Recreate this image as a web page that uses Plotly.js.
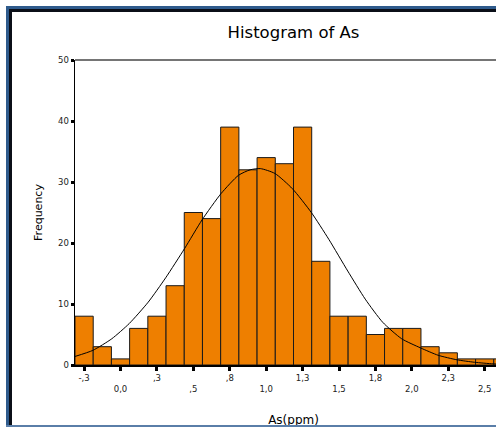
<!DOCTYPE html>
<html>
<head>
<meta charset="utf-8">
<script src="https://cdn.plot.ly/plotly-3.0.1.min.js"></script>
<style>
  html, body { margin:0; padding:0; background:#ffffff; width:496px; height:427px; overflow:hidden; }
  #frameOuter { position:absolute; left:6px; top:6px; width:600px; height:416px;
    border-left:3px solid #2f5b8c; border-top:3px solid #2f5b8c; border-bottom:3px solid #5a7ea8; }
  #frameInner { position:absolute; left:0; top:0; width:600px; height:416px;
    border-left:3px solid #0b0f18; border-top:3px solid #0b0f18; }
  #chart { position:absolute; left:0; top:0; width:540px; height:427px; }
  #frameBottom { position:absolute; left:6px; top:425px; width:600px; height:3px; background:#5a7ea8; }
</style>
</head>
<body>
<div id="frameOuter"><div id="frameInner"></div></div>
<div id="chart"></div>
<div id="frameBottom"></div>
<script>
// Histogram bins (centres, width 0.125) and frequencies
const binCenters = [-0.25, -0.125, 0, 0.125, 0.25, 0.375, 0.5, 0.625, 0.75, 0.875, 1.0, 1.125,
                    1.25, 1.375, 1.5, 1.625, 1.75, 1.875, 2.0, 2.125, 2.25, 2.375, 2.5, 2.625];
const frequencies = [8, 3, 1, 6, 8, 13, 25, 24, 39, 32, 34, 33,
                     39, 17, 8, 8, 5, 6, 6, 3, 2, 1, 1, 1];
const binWidth = 0.125;

// Normal curve, points
const curveX = [-0.3125, -0.19, -0.06, 0.06, 0.19, 0.31, 0.44, 0.56, 0.69, 0.81, 0.89, 0.96,
                1.06, 1.18, 1.31, 1.43, 1.56, 1.68, 1.80, 1.93, 2.06, 2.18, 2.31, 2.43, 2.56, 2.69];
const curveY = [1.4, 2.4, 4.3, 6.8, 10.3, 14.3, 19.1, 23.8, 28.1, 31.1, 32.0, 32.2,
                31.4, 28.9, 25.0, 20.6, 15.4, 10.8, 7.0, 4.3, 2.8, 1.6, 0.85, 0.45, 0.18, 0.06];

// Axis ticks
const xTickVals = [-0.25, 0, 0.25, 0.5, 0.75, 1.0, 1.25, 1.5, 1.75, 2.0, 2.25, 2.5];
const xTickLabels = ["-,3", "0,0", ",3", ",5", ",8", "1,0", "1,3", "1,5", "1,8", "2,0", "2,3", "2,5"];
const yTickVals = [0, 10, 20, 30, 40, 50];

const xTickText = xTickLabels.map((t, i) => (i % 2 === 0) ? t : "<br>" + t);

const bars = {
  type: 'bar',
  x: binCenters,
  y: frequencies,
  width: binWidth,
  marker: { color: '#ee7f00', line: { color: '#1a1a1a', width: 1 } },
  hoverinfo: 'none'
};
const curve = {
  type: 'scatter',
  mode: 'lines',
  x: curveX,
  y: curveY,
  line: { color: '#000000', width: 1, shape: 'spline', smoothing: 0.6 },
  hoverinfo: 'none'
};

const tickFont = { family: 'DejaVu Sans, sans-serif', size: 8.5, color: '#222222' };

const layout = {
  width: 540,
  height: 427,
  margin: { l: 75, r: 28, t: 60, b: 62 },
  paper_bgcolor: 'rgba(0,0,0,0)',
  plot_bgcolor: 'rgba(0,0,0,0)',
  showlegend: false,
  bargap: 0,
  title: {
    text: 'Histogram of As',
    font: { family: 'DejaVu Sans, sans-serif', size: 16.5, color: '#000000' },
    x: 0.5, xref: 'paper', xanchor: 'center',
    y: 1 - 32 / 427, yref: 'container', yanchor: 'middle'
  },
  xaxis: {
    range: [-0.3125, 2.6875],
    tickmode: 'array',
    tickvals: xTickVals,
    ticktext: xTickText,
    ticks: 'outside', ticklen: 4, tickwidth: 3, tickcolor: '#000000',
    showline: true, linecolor: '#000000', linewidth: 1.5,
    showgrid: false, zeroline: false,
    tickfont: tickFont,
    title: { text: 'As(ppm)', font: { family: 'DejaVu Sans, sans-serif', size: 12, color: '#000000' }, standoff: 30 },
    fixedrange: true
  },
  yaxis: {
    range: [0, 50],
    tickmode: 'array',
    tickvals: yTickVals,
    ticks: 'outside', ticklen: 3, tickwidth: 3, tickcolor: '#000000',
    showline: true, linecolor: '#000000', linewidth: 1.5,
    showgrid: false, zeroline: false,
    tickfont: tickFont,
    title: { text: 'Frequency', font: { family: 'DejaVu Sans, sans-serif', size: 11, color: '#000000' }, standoff: 13 },
    fixedrange: true
  },
  shapes: [
    { type: 'line', xref: 'paper', yref: 'paper', x0: 0, x1: 1, y0: 1, y1: 1,
      line: { color: '#757575', width: 2 } }
  ]
};

Plotly.newPlot('chart', [bars, curve], layout, { displayModeBar: false, staticPlot: true });
</script>
</body>
</html>
